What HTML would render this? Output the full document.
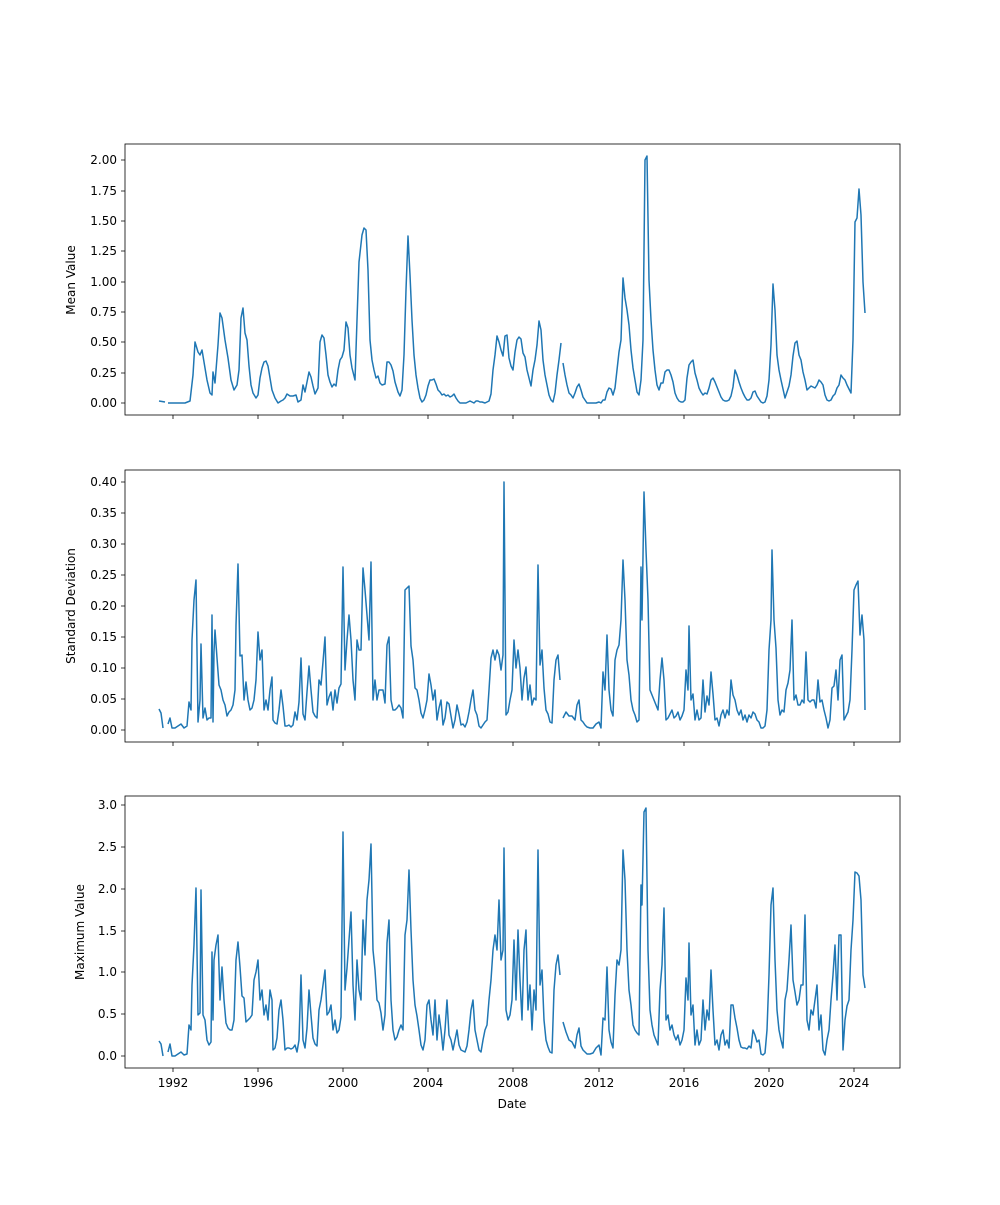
<!DOCTYPE html>
<html><head><meta charset="utf-8"><style>
body{margin:0;background:#fff}
svg text{font-family:"DejaVu Sans","Liberation Sans",sans-serif;font-size:12px;fill:#000}
</style></head><body>
<svg width="1000" height="1200" xmlns="http://www.w3.org/2000/svg">
<rect width="1000" height="1200" fill="#fff"/>
<g fill="none" stroke="#000" stroke-width="0.8">
<rect x="125" y="144" width="775" height="271"/>
<rect x="125" y="470" width="775" height="272"/>
<rect x="125" y="796" width="775" height="272"/>
</g>
<g stroke="#000" stroke-width="0.8">
<path d="M173,415v4M258,415v4M343,415v4M428,415v4M513,415v4M599,415v4M684,415v4M769,415v4M854,415v4
M173,742v4M258,742v4M343,742v4M428,742v4M513,742v4M599,742v4M684,742v4M769,742v4M854,742v4
M173,1068v4M258,1068v4M343,1068v4M428,1068v4M513,1068v4M599,1068v4M684,1068v4M769,1068v4M854,1068v4"/>
<path d="M121,403h4M121,373h4M121,342h4M121,312h4M121,282h4M121,251h4M121,221h4M121,191h4M121,160h4"/>
<path d="M121,730h4M121,699h4M121,668h4M121,637h4M121,606h4M121,575h4M121,544h4M121,513h4M121,482h4"/>
<path d="M121,1056h4M121,1014h4M121,972h4M121,931h4M121,889h4M121,847h4M121,805h4"/>
</g>
<g text-anchor="end">
<text x="117" y="407">0.00</text><text x="117" y="377">0.25</text><text x="117" y="346">0.50</text><text x="117" y="316">0.75</text><text x="117" y="286">1.00</text><text x="117" y="255">1.25</text><text x="117" y="225">1.50</text><text x="117" y="195">1.75</text><text x="117" y="164">2.00</text>
<text x="117" y="734">0.00</text><text x="117" y="703">0.05</text><text x="117" y="672">0.10</text><text x="117" y="641">0.15</text><text x="117" y="610">0.20</text><text x="117" y="579">0.25</text><text x="117" y="548">0.30</text><text x="117" y="517">0.35</text><text x="117" y="486">0.40</text>
<text x="117" y="1060">0.0</text><text x="117" y="1018">0.5</text><text x="117" y="976">1.0</text><text x="117" y="935">1.5</text><text x="117" y="893">2.0</text><text x="117" y="851">2.5</text><text x="117" y="809">3.0</text>
</g>
<g text-anchor="middle">
<text x="173" y="1087">1992</text><text x="258" y="1087">1996</text><text x="343" y="1087">2000</text><text x="428" y="1087">2004</text><text x="513" y="1087">2008</text><text x="599" y="1087">2012</text><text x="684" y="1087">2016</text><text x="769" y="1087">2020</text><text x="854" y="1087">2024</text>
<text x="512" y="1108">Date</text>
<text transform="translate(75,280) rotate(-90)">Mean Value</text>
<text transform="translate(75,606) rotate(-90)">Standard Deviation</text>
<text transform="translate(84,932) rotate(-90)">Maximum Value</text>
</g>
<g fill="none" stroke="#1f77b4" stroke-width="1.5" stroke-linejoin="round">
<polyline points="159,401 165,402"/>
<polyline points="168,403 185,403 190,401 193,375 195,342 198,352 200,355 202,350 204,362 207,380 210,393 212,395 213,372 215,383 218,345 220,313 222,318 225,340 228,358 231,380 234,390 237,385 239,370 241,318 243,308 245,333 247,340 249,366 251,385 253,393 256,398 258,395 260,378 262,368 264,362 266,361 268,366 270,378 272,390 275,398 278,403 281,401 283,400 285,398 287,394 290,396 293,396 296,395 298,402 301,400 303,385 305,392 307,382 309,372 311,377 313,386 315,394 318,388 320,342 322,335 324,338 326,355 328,375 330,382 332,387 334,384 336,386 338,370 340,360 342,357 344,350 346,322 348,328 350,355 352,368 355,380 357,320 359,262 362,235 364,228 366,230 368,270 370,340 372,360 374,370 376,378 378,376 380,383 382,385 385,384 387,362 389,362 391,365 393,371 395,382 398,392 400,396 402,390 404,355 406,290 408,236 410,275 412,320 414,355 416,375 418,388 420,398 422,402 424,400 426,395 428,386 430,380 432,380 434,379 436,384 438,390 440,392 442,395 444,394 446,396 448,395 450,397 452,396 454,394 456,398 458,401 460,403 463,403 466,403 468,402 470,401 472,402 474,403 476,401 478,401 480,402 482,402 485,403 487,402 489,401 491,394 493,370 495,355 497,336 499,342 501,350 503,356 505,336 507,335 509,358 511,366 513,370 515,352 517,340 519,337 521,339 523,353 525,357 527,370 529,378 531,386 533,370 535,360 537,345 539,321 541,330 543,360 545,375 547,385 549,395 551,400 553,402 555,393 557,375 559,360 561,343"/>
<polyline points="563,363 565,375 567,385 569,393 571,395 573,398 575,393 577,387 579,384 581,390 583,397 585,400 587,403 590,403 593,403 596,403 599,402 601,403 603,400 605,400 607,392 609,388 611,389 613,395 615,388 617,370 619,352 621,340 623,278 625,298 627,310 629,325 631,350 633,368 635,380 637,392 639,395 641,380 643,340 645,160 647,156 649,280 651,320 653,350 655,370 657,385 659,390 661,383 663,383 665,372 667,370 669,370 671,375 673,382 675,393 677,398 679,401 681,402 683,402 685,400 687,378 689,365 691,362 693,360 695,373 697,380 699,388 701,392 703,395 705,393 707,394 709,388 711,380 713,378 715,382 717,387 719,392 721,397 723,400 725,401 727,401 729,400 731,396 733,387 735,370 737,375 739,382 741,388 743,393 745,397 747,400 749,400 751,398 753,392 755,391 757,396 759,399 761,402 763,403 765,402 767,396 769,380 771,345 773,284 775,310 777,355 779,370 781,380 783,389 785,398 787,392 789,386 791,375 793,356 795,343 797,341 799,355 801,360 803,372 805,380 807,390 809,388 811,386 813,387 815,388 817,385 819,380 821,382 823,385 825,395 827,400 829,401 831,400 833,396 835,394 837,388 839,385 841,375 843,378 845,380 847,385 849,389 851,393 853,340 855,222 857,218 859,189 861,215 863,282 865,313"/>
<polyline points="159,709 161,713 163,728"/>
<polyline points="168,724 170,718 172,728 175,728 178,726 181,724 184,728 187,726 189,702 191,710 192,640 194,600 196,580 198,722 200,700 201,644 203,718 205,708 207,720 209,718 211,718 212,615 213,722 214,652 215,630 217,658 219,685 221,690 223,700 225,705 227,716 229,712 231,710 233,705 235,690 236,625 238,564 240,656 242,655 244,700 246,682 248,700 250,710 252,708 254,700 256,680 258,632 260,660 262,650 264,710 266,700 268,710 270,690 272,677 273,720 275,723 277,724 279,710 281,690 283,706 285,726 287,726 289,725 291,727 293,725 295,712 297,720 299,702 301,658 303,714 305,720 307,692 309,666 311,690 313,712 315,716 317,718 319,680 321,685 323,662 325,637 327,705 329,697 331,692 333,710 335,690 337,703 339,688 341,684 343,567 345,670 347,640 349,615 351,640 353,680 355,700 357,640 359,650 361,650 363,568 365,590 367,615 369,640 371,562 373,700 375,680 377,700 379,690 381,690 383,690 385,703 387,645 389,637 391,700 393,710 395,710 397,708 399,705 401,708 403,718 405,590 407,588 409,586 411,646 413,660 415,688 417,690 419,700 421,713 423,718 425,710 427,700 429,674 431,685 433,700 435,690 437,720 439,708 441,700 443,725 445,718 447,702 449,704 451,716 453,728 455,720 457,705 459,714 461,725 463,724 465,727 467,722 469,712 471,700 473,690 475,710 477,715 479,726 481,728 483,725 485,722 487,720 489,690 491,658 493,650 495,660 497,650 499,655 501,670 503,655 504,482 506,715 508,712 510,700 512,690 514,640 516,668 518,650 520,668 522,700 524,678 526,667 528,700 530,685 532,705 534,698 536,700 538,565 540,665 542,650 544,688 546,710 548,714 550,722 552,723 554,680 556,660 558,655 560,680"/>
<polyline points="563,718 566,712 569,716 572,716 575,720 577,705 579,700 581,720 583,722 585,725 587,727 590,728 593,728 596,724 599,722 601,728 603,672 605,690 607,635 609,690 611,710 613,716 615,660 617,650 619,645 621,620 623,560 625,600 627,660 629,675 631,700 633,710 635,715 637,722 639,720 641,567 642,620 644,492 646,550 648,600 650,690 652,695 654,700 656,705 658,710 660,680 662,658 664,680 666,720 668,718 670,714 672,710 674,718 676,716 678,712 680,720 682,716 684,710 686,670 688,690 689,626 691,700 693,694 695,720 697,710 699,720 701,718 703,680 705,712 707,696 709,705 711,672 713,694 715,720 717,718 719,726 721,715 723,710 725,718 727,710 729,715 731,680 733,695 735,700 737,710 739,715 741,710 743,720 745,715 747,722 749,715 751,718 753,712 755,714 757,720 759,722 761,728 763,728 765,726 767,710 769,650 771,620 772,550 774,620 776,648 778,700 780,715 782,710 784,712 786,690 788,683 790,670 792,620 794,700 796,695 798,705 800,705 802,700 804,703 806,652 808,700 810,702 812,700 814,700 816,708 818,680 820,702 822,700 824,710 826,718 828,728 830,720 832,688 834,686 836,670 838,700 840,660 842,655 844,720 846,716 848,712 850,700 852,650 854,590 856,585 858,581 860,635 862,615 864,640 865,710"/>
<polyline points="159,1041 161,1044 163,1056"/>
<polyline points="168,1052 170,1044 172,1056 175,1056 178,1054 181,1052 184,1055 187,1054 189,1025 191,1030 192,985 194,945 196,888 198,1015 200,1013 201,890 203,1015 205,1020 207,1040 209,1045 211,1042 212,952 213,1020 214,960 216,945 218,935 220,1000 222,967 224,1000 226,1023 228,1028 230,1030 232,1030 234,1020 236,960 238,942 240,967 242,996 244,998 246,1022 248,1020 250,1018 252,1015 254,980 256,972 258,960 260,1000 262,990 264,1015 266,1005 268,1020 270,990 272,1000 273,1050 275,1048 277,1038 279,1010 281,1000 283,1020 285,1050 287,1048 289,1048 291,1049 293,1048 295,1045 297,1052 299,1040 301,975 303,1040 305,1048 307,1028 309,990 311,1015 313,1038 315,1044 317,1046 319,1010 321,1000 323,985 325,970 327,1015 329,1012 331,1005 333,1030 335,1020 337,1033 339,1030 341,1017 343,832 345,990 347,968 349,940 351,912 353,985 355,1020 357,960 359,990 361,1000 363,920 365,955 367,900 369,880 371,844 373,950 375,970 377,1000 379,1003 381,1013 383,1030 385,1015 387,943 389,920 391,1000 393,1030 395,1040 397,1037 399,1030 401,1025 403,1030 405,935 407,920 409,870 411,930 413,980 415,1005 417,1016 419,1030 421,1045 423,1050 425,1040 427,1005 429,1000 431,1020 433,1035 435,1000 437,1040 439,1015 441,1030 443,1050 445,1030 447,1000 449,1035 451,1040 453,1050 455,1040 457,1030 459,1045 461,1050 463,1051 465,1052 467,1046 469,1030 471,1010 473,1000 475,1030 477,1040 479,1050 481,1052 483,1040 485,1030 487,1025 489,1000 491,980 493,950 495,935 497,950 499,900 501,960 503,950 504,848 506,1010 508,1020 510,1015 512,1000 514,940 516,1000 518,930 520,980 522,1020 524,950 526,930 528,1010 530,985 532,1030 534,990 536,1010 538,850 540,985 542,970 544,1020 546,1040 548,1047 550,1052 552,1053 554,990 556,965 558,955 560,975"/>
<polyline points="563,1022 566,1032 569,1040 572,1042 575,1048 577,1035 579,1028 581,1046 583,1050 585,1052 587,1054 590,1054 593,1053 596,1048 599,1045 601,1055 603,1018 605,1020 607,967 609,1030 611,1042 613,1048 615,995 617,960 619,965 621,950 623,850 625,880 627,950 629,990 631,1005 633,1025 635,1030 637,1033 639,1035 641,885 642,905 644,812 646,808 648,950 650,1010 652,1025 654,1035 656,1040 658,1045 660,990 662,965 664,908 666,1020 668,1015 670,1030 672,1025 674,1035 676,1040 678,1035 680,1045 682,1040 684,1030 686,978 688,1000 689,943 691,1015 693,1005 695,1045 697,1030 699,1045 701,1040 703,1000 705,1030 707,1010 709,1020 711,970 713,1010 715,1045 717,1040 719,1050 721,1035 723,1030 725,1045 727,1040 729,1048 731,1005 733,1005 735,1018 737,1028 739,1040 741,1047 743,1048 745,1048 747,1049 749,1046 751,1048 753,1030 755,1035 757,1042 759,1040 761,1054 763,1055 765,1053 767,1030 769,975 771,905 773,888 775,960 777,1010 779,1030 781,1040 783,1048 785,1000 787,990 789,960 791,925 793,980 795,992 797,1005 799,1000 801,985 803,985 805,915 807,1020 809,1030 811,1010 813,1015 815,1000 817,985 819,1030 821,1015 823,1050 825,1055 827,1040 829,1030 831,1000 833,975 835,945 837,1000 839,935 841,935 843,1050 845,1020 847,1006 849,1000 851,950 853,920 855,872 857,873 859,876 861,900 863,975 865,988"/>
</g>
</svg>
</body></html>
